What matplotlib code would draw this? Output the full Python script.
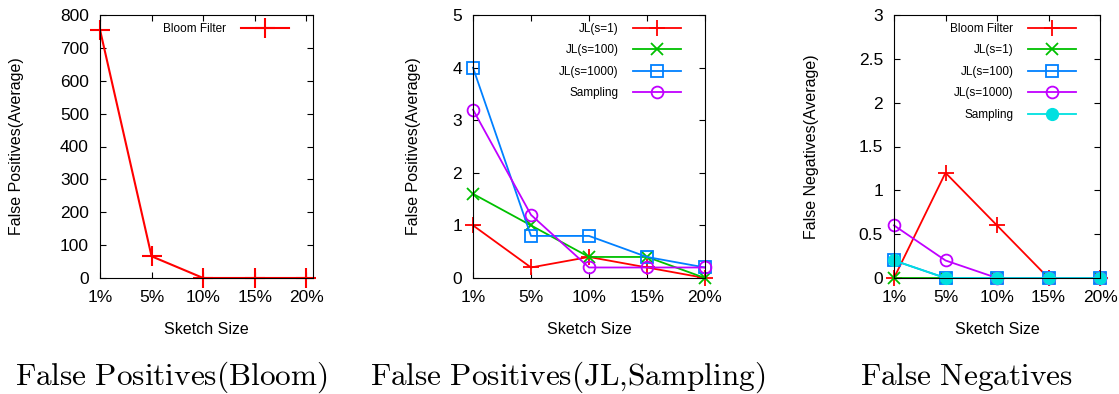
import matplotlib
matplotlib.use("Agg")
import matplotlib.pyplot as plt

plt.rcParams["font.family"] = ["Liberation Sans", "DejaVu Sans"]
plt.rcParams["mathtext.fontset"] = "cm"

sizes = ["1%", "5%", "10%", "15%", "20%"]

# False positives, Bloom filter
bloom_fp = [755, 66, 0, 0, 0]

# False positives, JL and sampling
jl1_fp = [1.0, 0.2, 0.4, 0.2, 0.0]
jl100_fp = [1.6, 1.0, 0.4, 0.4, 0.0]
jl1000_fp = [4.0, 0.8, 0.8, 0.4, 0.2]
sampling_fp = [3.2, 1.2, 0.2, 0.2, 0.2]

# False negatives
bloom_fn = [0.0, 1.2, 0.6, 0.0, 0.0]
jl1_fn = [0.0, 0.0, 0.0, 0.0, 0.0]
jl100_fn = [0.2, 0.0, 0.0, 0.0, 0.0]
jl1000_fn = [0.6, 0.2, 0.0, 0.0, 0.0]
sampling_fn = [0.2, 0.0, 0.0, 0.0, 0.0]

RED = "#ff0000"
GREEN = "#00c000"
BLUE = "#0080ff"
PURPLE = "#c000ff"
CYAN = "#00e0e0"

W, H = 1119, 394
x = list(range(len(sizes)))

fig = plt.figure(figsize=(W / 100, H / 100), dpi=100)
# axes boxes in pixels: left, top, right, bottom
boxes = [(100, 15, 313, 278), (473, 15, 705, 278), (894, 15, 1100, 278)]
axes = []
for l, t, r, b in boxes:
    axes.append(fig.add_axes([l / W, 1 - b / H, (r - l) / W, (b - t) / H]))
ax1, ax2, ax3 = axes


def style_axes(ax, box, yticks, ylabels, ylim, ylabel, ylab_dx, xmax=4):
    wpx = box[2] - box[0]
    hpx = box[3] - box[1]
    ax.set_xlim(0, xmax)
    ax.set_ylim(*ylim)
    ax.set_xticks(x)
    ax.set_xticklabels(sizes, fontsize=12.5)
    ax.set_yticks(yticks)
    ax.set_yticklabels(ylabels, fontsize=12.5)
    ax.tick_params(direction="in", top=True, right=True, length=4, width=0.8)
    ax.tick_params(axis="x", pad=9)
    ax.tick_params(axis="y", pad=8)
    ax.set_xlabel("Sketch Size", fontsize=11.5)
    ax.set_ylabel(ylabel, fontsize=11.5)
    ax.xaxis.set_label_coords(0.5, -44 / hpx)
    ax.yaxis.set_label_coords(-ylab_dx / wpx, 0.5)
    for sp in ax.spines.values():
        sp.set_linewidth(0.8)

    # legend: text first, line sample on the right, no frame
    ax.legend(loc="upper right", frameon=False, markerfirst=False,
              fontsize=8.5, handlelength=4.1, handletextpad=1.2,
              labelspacing=0.8, borderpad=0, borderaxespad=0,
              bbox_to_anchor=(1 - 24 / wpx, 1 - 8 / hpx))


# panel 1
ax1.plot(x, bloom_fp, color=RED, lw=1.5, marker="+", ms=14, mew=1.5,
         label="Bloom Filter", clip_on=False)
style_axes(ax1, boxes[0], range(0, 801, 100),
           [str(v) for v in range(0, 801, 100)], (0, 800),
           "False Positives(Average)", 76, xmax=4.13)

# panel 2
ax2.plot(x, jl1_fp, color=RED, lw=1.3, marker="+", ms=12, mew=1.3,
         label="JL(s=1)", clip_on=False)
ax2.plot(x, jl100_fp, color=GREEN, lw=1.3, marker="x", ms=9, mew=1.3,
         label="JL(s=100)", clip_on=False)
ax2.plot(x, jl1000_fp, color=BLUE, lw=1.3, marker="s", ms=8.5, mew=1.3,
         mfc="none", label="JL(s=1000)", clip_on=False)
ax2.plot(x, sampling_fp, color=PURPLE, lw=1.3, marker="o", ms=8.5, mew=1.3,
         mfc="none", label="Sampling", clip_on=False)
style_axes(ax2, boxes[1], range(0, 6), [str(v) for v in range(0, 6)], (0, 5),
           "False Positives(Average)", 52)

# panel 3
ax3.plot(x, bloom_fn, color=RED, lw=1.3, marker="+", ms=12, mew=1.3,
         label="Bloom Filter", clip_on=False)
ax3.plot(x, jl1_fn, color=GREEN, lw=1.3, marker="x", ms=9, mew=1.3,
         label="JL(s=1)", clip_on=False)
ax3.plot(x, jl100_fn, color=BLUE, lw=1.3, marker="s", ms=8.5, mew=1.3,
         mfc="none", label="JL(s=100)", clip_on=False)
ax3.plot(x, jl1000_fn, color=PURPLE, lw=1.3, marker="o", ms=8.5, mew=1.3,
         mfc="none", label="JL(s=1000)", clip_on=False)
ax3.plot(x, sampling_fn, color=CYAN, lw=1.3, marker="o", ms=8.5, mew=1.0,
         mec=CYAN, mfc=CYAN, label="Sampling", clip_on=False)
yt3 = [0, 0.5, 1, 1.5, 2, 2.5, 3]
style_axes(ax3, boxes[2], yt3, ["0", "0.5", "1", "1.5", "2", "2.5", "3"],
           (0, 3), "False Negatives(Average)", 75)

# captions under each panel
captions = ["False\\ Positives(Bloom)", "False\\ Positives(JL{,}Sampling)",
            "False\\ Negatives"]
cap_x = [171, 568, 966]
for cx, cap in zip(cap_x, captions):
    fig.text(cx / W, 1 - 385 / H, r"$\mathrm{" + cap + "}$",
             ha="center", va="baseline", fontsize=22.5)

fig.savefig("out.png", dpi=100)
